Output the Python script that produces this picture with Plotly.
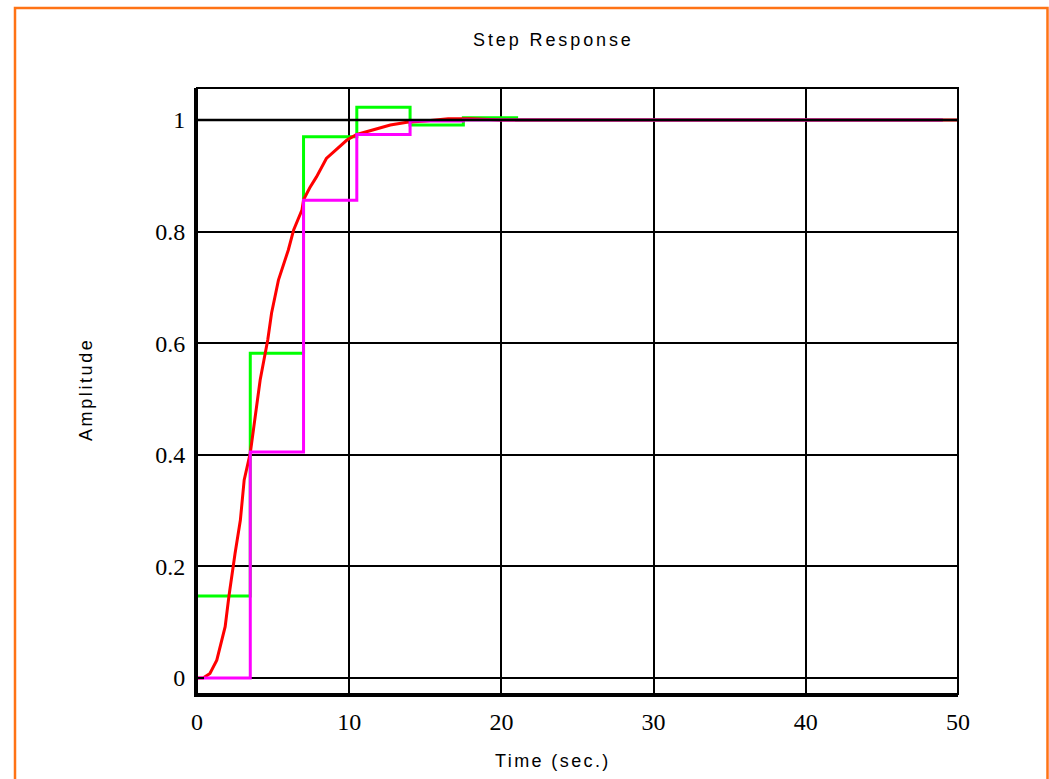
import plotly.graph_objects as go

# Continuous step response of the plant
t_cont = [0, 0.4, 0.85, 1.3, 1.85, 2.1, 2.5, 2.85, 3.1, 3.5, 4.15, 4.65, 4.9, 5.35,
          6.0, 6.35, 6.9, 7.0, 7.4, 7.85, 8.5, 9.2, 9.85, 10.5, 11.6, 12.7, 13.8,
          15.0, 16.5, 18.0, 20.0, 25.0, 30.0, 40.0, 50.0]
y_cont = [0, 0, 0.008, 0.032, 0.092, 0.147, 0.223, 0.283, 0.355, 0.403, 0.534, 0.606,
          0.654, 0.713, 0.767, 0.803, 0.839, 0.857, 0.878, 0.898, 0.931, 0.949, 0.964,
          0.974, 0.983, 0.991, 0.996, 0.998, 1.002, 1.002, 1.0, 1.0, 1.0, 1.0, 1.0]

# Sampled responses, sample time 3.5 s
t_samp = [0, 3.5, 7, 10.5, 14, 17.5, 21, 24.5, 28, 31.5, 35, 38.5, 42, 45.5, 49]
y_green = [0.147, 0.582, 0.970, 1.023, 0.991, 1.004, 1.0, 1.0, 1.0, 1.0, 1.0, 1.0, 1.0, 1.0, 1.0]
y_magenta = [0.0, 0.405, 0.856, 0.974, 0.998, 1.0, 1.0, 1.0, 1.0, 1.0, 1.0, 1.0, 1.0, 1.0, 1.0]

# Steady-state reference line
t_ref = [0, 50]
y_ref = [1, 1]

x_ticks = [0, 10, 20, 30, 40, 50]
x_labels = ["0", "10", "20", "30", "40", "50"]
y_ticks = [0, 0.2, 0.4, 0.6, 0.8, 1]
y_labels = ["0", "0.2", "0.4", "0.6", "0.8", "1"]

W, H = 1049, 779
L, R, T, B = 197, 958, 88, 694  # plot area in pixels


def px(x):
    return (x - L) / (R - L)


def py(y):
    return (B - y) / (B - T)


def spaced(text, gap):
    return f'<span style="letter-spacing:{gap}px">{text}</span>'


fig = go.Figure()
fig.add_trace(go.Scatter(x=t_samp, y=y_green, mode="lines", line_shape="hv",
                         line=dict(color="#00FF00", width=3), hoverinfo="skip"))
fig.add_trace(go.Scatter(x=t_cont, y=y_cont, mode="lines",
                         line=dict(color="#FF0000", width=3), hoverinfo="skip"))
fig.add_trace(go.Scatter(x=t_samp, y=y_magenta, mode="lines", line_shape="hv",
                         line=dict(color="#FF00FF", width=3), hoverinfo="skip"))
fig.add_trace(go.Scatter(x=t_ref, y=y_ref, mode="lines",
                         line=dict(color="#000000", width=2.5), hoverinfo="skip"))

tick_font = dict(family="Liberation Serif, Times New Roman, serif", size=24, color="#000000")
label_font = dict(family="Liberation Sans, Arial, sans-serif", size=18, color="#000000")

fig.update_layout(
    width=W, height=H,
    margin=dict(l=L, r=W - R, t=T, b=H - B, pad=0),
    paper_bgcolor="white", plot_bgcolor="white",
    showlegend=False,
    xaxis=dict(range=[0, 50], tickvals=x_ticks, ticktext=x_labels, tickfont=tick_font,
               showgrid=True, gridcolor="#000000", gridwidth=2, zeroline=False,
               showline=True, linecolor="#000000", linewidth=3,
               ticks="inside", ticklen=7, tickwidth=2, tickcolor="#000000",
               ticklabelstandoff=4),
    yaxis=dict(range=[-0.0287, 1.0573], tickvals=y_ticks, ticktext=y_labels, tickfont=tick_font,
               showgrid=True, gridcolor="#000000", gridwidth=2, zeroline=False,
               showline=True, linecolor="#000000", linewidth=3,
               ticks="inside", ticklen=7, tickwidth=2, tickcolor="#000000",
               ticklabelstandoff=4),
    shapes=[
        dict(type="rect", xref="paper", yref="paper", x0=0, x1=1, y0=0, y1=1,
             line=dict(color="#000000", width=2), fillcolor="rgba(0,0,0,0)"),
        dict(type="rect", xref="paper", yref="paper",
             x0=px(15), x1=px(1047.5), y0=py(800), y1=py(8),
             line=dict(color="#FF7315", width=2.5), fillcolor="rgba(0,0,0,0)"),
    ],
    annotations=[
        dict(text=spaced("Step Response", 2.9), xref="paper", yref="paper",
             x=px(553), y=py(40), xanchor="center", yanchor="middle",
             showarrow=False, font=label_font),
        dict(text=spaced("Time (sec.)", 2.4), xref="paper", yref="paper",
             x=px(553), y=py(761), xanchor="center", yanchor="middle",
             showarrow=False, font=label_font),
        dict(text=spaced("Amplitude", 2.6), xref="paper", yref="paper",
             x=px(86), y=py(389), xanchor="center", yanchor="middle",
             showarrow=False, textangle=-90, font=label_font),
    ],
)

fig.write_html("out.html")
